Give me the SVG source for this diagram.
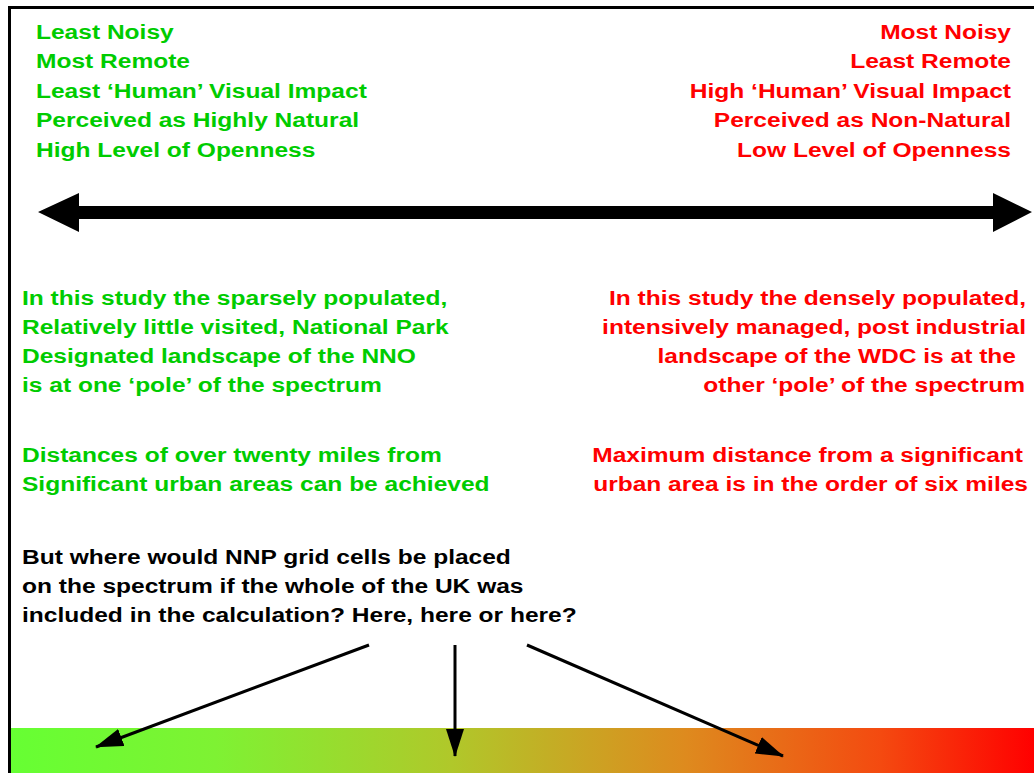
<svg xmlns="http://www.w3.org/2000/svg" width="1034" height="773" viewBox="0 0 1034 773">
<style>
text{font-family:"Liberation Sans",Arial,sans-serif;font-weight:bold;font-size:20.8px;}
.g{fill:#00cc00;}
.r{fill:#ff0000;text-anchor:end;}
.k{fill:#000000;}
.c{stroke:#000;stroke-width:3;fill:none;}
</style>
<defs>
<linearGradient id="spec" x1="0" y1="0" x2="1" y2="0">
<stop offset="0" stop-color="#66ff33"/>
<stop offset="0.2" stop-color="#7ef233"/>
<stop offset="0.43" stop-color="#b0c82a"/>
<stop offset="0.66" stop-color="#de8a1e"/>
<stop offset="0.85" stop-color="#f44a10"/>
<stop offset="1" stop-color="#ff0000"/>
</linearGradient>
<marker id="ah" markerWidth="28" markerHeight="18" refX="27" refY="9" orient="auto" markerUnits="userSpaceOnUse" viewBox="0 0 28 18">
<path d="M0,0 L28,9 L0,18 Z" fill="#000"/>
</marker>
</defs>
<rect x="0" y="0" width="1034" height="773" fill="#fff"/>
<g id="frame">
<path d="M9.5,773 L9.5,7.5 L1034,7.5" stroke="#000" stroke-width="3" fill="none"/>
</g>
<g id="spectrum-bar">
<rect x="11" y="728" width="1023" height="45" fill="url(#spec)"/>
</g>
<g id="axis-arrow">
<path d="M38,212 L79,193 L79,206 L993,206 L993,193 L1032,212 L993,232 L993,219 L79,219 L79,232 Z" fill="#000"/>
</g>
<g id="left-pole" transform="translate(36,0) scale(1.18,1)">
<text class="g" x="0" y="39">Least Noisy</text>
<text class="g" x="0" y="68.5">Most Remote</text>
<text class="g" x="0" y="98">Least ‘Human’ Visual Impact</text>
<text class="g" x="0" y="127.5">Perceived as Highly Natural</text>
<text class="g" x="0" y="157">High Level of Openness</text>
</g>
<g id="right-pole" transform="translate(1011,0) scale(1.18,1)">
<text class="r" x="0" y="39">Most Noisy</text>
<text class="r" x="0" y="68.5">Least Remote</text>
<text class="r" x="0" y="98">High ‘Human’ Visual Impact</text>
<text class="r" x="0" y="127.5">Perceived as Non-Natural</text>
<text class="r" x="0" y="157">Low Level of Openness</text>
</g>
<g id="left-study" transform="translate(22,0) scale(1.18,1)">
<text class="g" x="0" y="305">In this study the sparsely populated,</text>
<text class="g" x="0" y="334">Relatively little visited, National Park</text>
<text class="g" x="0" y="363">Designated landscape of the NNO</text>
<text class="g" x="0" y="392">is at one ‘pole’ of the spectrum</text>
<text class="g" x="0" y="462">Distances of over twenty miles from</text>
<text class="g" x="0" y="491">Significant urban areas can be achieved</text>
</g>
<g id="right-study">
<text class="r" transform="translate(1026,0) scale(1.18,1)" x="0" y="305">In this study the densely populated,</text>
<text class="r" transform="translate(1026,0) scale(1.18,1)" x="0" y="334">intensively managed, post industrial</text>
<text class="r" transform="translate(1016,0) scale(1.18,1)" x="0" y="363">landscape of the WDC is at the</text>
<text class="r" transform="translate(1025,0) scale(1.18,1)" x="0" y="392">other ‘pole’ of the spectrum</text>
<text class="r" transform="translate(1023,0) scale(1.18,1)" x="0" y="462">Maximum distance from a significant</text>
<text class="r" transform="translate(1028,0) scale(1.18,1)" x="0" y="491">urban area is in the order of six miles</text>
</g>
<g id="question" transform="translate(22,0) scale(1.18,1)">
<text class="k" x="0" y="564">But where would NNP grid cells be placed</text>
<text class="k" x="0" y="593">on the spectrum if the whole of the UK was</text>
<text class="k" x="0" y="622">included in the calculation? Here, here or here?</text>
</g>
<g id="connectors">
<line class="c" x1="369" y1="645" x2="96" y2="747" marker-end="url(#ah)"/>
<line class="c" x1="455" y1="645" x2="455" y2="756" marker-end="url(#ah)"/>
<line class="c" x1="527" y1="645" x2="783" y2="756" marker-end="url(#ah)"/>
</g>
</svg>
